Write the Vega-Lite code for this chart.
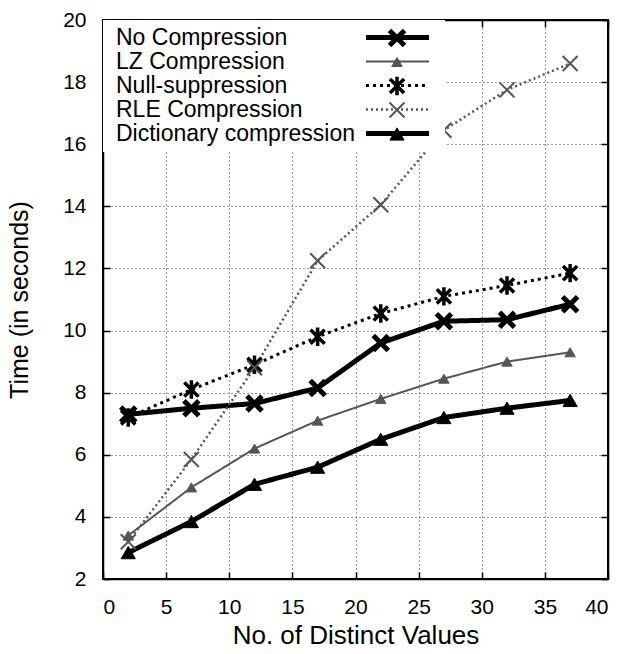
{
  "$schema": "https://vega.github.io/schema/vega-lite/v6.json",
  "autosize": "none",
  "width": 505,
  "height": 559,
  "padding": {"left": 103, "top": 20, "right": 21, "bottom": 75},
  "background": "white",
  "config": {
    "font": "Liberation Sans",
    "view": {"stroke": "black", "strokeWidth": 2},
    "axis": {
      "labelFont": "Liberation Sans",
      "labelFontSize": 21,
      "labelColor": "black",
      "titleFont": "Liberation Sans",
      "titleFontSize": 25,
      "titleFontWeight": "normal",
      "titleColor": "black",
      "domainColor": "black",
      "domainWidth": 1.5,
      "tickColor": "black",
      "tickWidth": 1.5,
      "tickSize": -7,
      "gridColor": "black",
      "gridDash": [1, 3],
      "gridOpacity": 0.8,
      "gridWidth": 1
    },
    "legend": {
      "orient": "none",
      "legendX": 0,
      "legendY": 0,
      "title": null,
      "padding": 6,
      "labelFont": "Liberation Sans",
      "labelFontSize": 23,
      "labelColor": "black",
      "labelLimit": 400,
      "rowPadding": 0,
      "symbolOpacity": 1
    }
  },
  "datasets": {
    "perf": [
      {"series": "No Compression", "distinct": 2, "time": 7.3},
      {"series": "No Compression", "distinct": 7, "time": 7.5},
      {"series": "No Compression", "distinct": 12, "time": 7.65},
      {"series": "No Compression", "distinct": 17, "time": 8.15},
      {"series": "No Compression", "distinct": 22, "time": 9.6},
      {"series": "No Compression", "distinct": 27, "time": 10.3},
      {"series": "No Compression", "distinct": 32, "time": 10.35},
      {"series": "No Compression", "distinct": 37, "time": 10.85},
      {"series": "LZ Compression", "distinct": 2, "time": 3.4},
      {"series": "LZ Compression", "distinct": 7, "time": 4.95},
      {"series": "LZ Compression", "distinct": 12, "time": 6.2},
      {"series": "LZ Compression", "distinct": 17, "time": 7.1},
      {"series": "LZ Compression", "distinct": 22, "time": 7.8},
      {"series": "LZ Compression", "distinct": 27, "time": 8.45},
      {"series": "LZ Compression", "distinct": 32, "time": 9.0},
      {"series": "LZ Compression", "distinct": 37, "time": 9.3},
      {"series": "Null-suppression", "distinct": 2, "time": 7.2},
      {"series": "Null-suppression", "distinct": 7, "time": 8.1},
      {"series": "Null-suppression", "distinct": 12, "time": 8.9},
      {"series": "Null-suppression", "distinct": 17, "time": 9.8},
      {"series": "Null-suppression", "distinct": 22, "time": 10.55},
      {"series": "Null-suppression", "distinct": 27, "time": 11.1},
      {"series": "Null-suppression", "distinct": 32, "time": 11.45},
      {"series": "Null-suppression", "distinct": 37, "time": 11.85},
      {"series": "RLE Compression", "distinct": 2, "time": 3.2},
      {"series": "RLE Compression", "distinct": 7, "time": 5.85},
      {"series": "RLE Compression", "distinct": 12, "time": 8.8},
      {"series": "RLE Compression", "distinct": 17, "time": 12.25},
      {"series": "RLE Compression", "distinct": 22, "time": 14.05},
      {"series": "RLE Compression", "distinct": 27, "time": 16.45},
      {"series": "RLE Compression", "distinct": 32, "time": 17.75},
      {"series": "RLE Compression", "distinct": 37, "time": 18.6},
      {"series": "Dictionary compression", "distinct": 2, "time": 2.85},
      {"series": "Dictionary compression", "distinct": 7, "time": 3.85},
      {"series": "Dictionary compression", "distinct": 12, "time": 5.05},
      {"series": "Dictionary compression", "distinct": 17, "time": 5.6},
      {"series": "Dictionary compression", "distinct": 22, "time": 6.5},
      {"series": "Dictionary compression", "distinct": 27, "time": 7.2},
      {"series": "Dictionary compression", "distinct": 32, "time": 7.5},
      {"series": "Dictionary compression", "distinct": 37, "time": 7.75}
    ]
  },
  "data": {"name": "perf"},
  "resolve": {
    "scale": {"x": "independent", "y": "independent", "stroke": "independent", "strokeWidth": "independent", "strokeDash": "independent", "shape": "independent", "size": "independent", "fill": "independent"},
    "legend": {"stroke": "independent", "strokeWidth": "independent", "strokeDash": "independent", "shape": "independent", "size": "independent", "fill": "independent"}
  },
  "layer": [
    {
      "mark": {"type": "line", "strokeJoin": "miter"},
      "encoding": {
        "x": {
          "field": "distinct", "type": "quantitative",
          "scale": {"domain": [0, 40], "nice": false, "zero": false},
          "axis": {"orient": "bottom", "values": [0, 5, 10, 15, 20, 25, 30, 35, 40], "title": "No. of Distinct Values", "titleFontSize": 26, "labelPadding": 24, "titlePadding": 5, "grid": true}
        },
        "y": {
          "field": "time", "type": "quantitative",
          "scale": {"domain": [2, 20], "nice": false, "zero": false},
          "axis": {"orient": "left", "values": [2, 4, 6, 8, 10, 12, 14, 16, 18, 20], "title": "Time (in seconds)", "labelPadding": 24, "titlePadding": 30, "grid": true}
        },
        "stroke": {
          "field": "series", "type": "nominal",
          "scale": {"domain": ["No Compression", "LZ Compression", "Null-suppression", "RLE Compression", "Dictionary compression"], "range": ["black", "#555555", "black", "#555555", "black"]},
          "legend": {"fillColor": "white", "symbolType": "M-6.3,0H6.3", "symbolSize": 100, "symbolFillColor": "transparent", "symbolOffset": 277, "labelOffset": -293}
        },
        "strokeWidth": {
          "field": "series", "type": "nominal",
          "scale": {"type": "ordinal", "domain": ["No Compression", "LZ Compression", "Null-suppression", "RLE Compression", "Dictionary compression"], "range": [5, 2, 3, 2.5, 5]},
          "legend": {"fillColor": "white", "symbolType": "M-6.3,0H6.3", "symbolSize": 100, "symbolFillColor": "transparent", "symbolOffset": 277, "labelOffset": -293}
        },
        "strokeDash": {
          "field": "series", "type": "nominal",
          "scale": {"domain": ["No Compression", "LZ Compression", "Null-suppression", "RLE Compression", "Dictionary compression"], "range": [[1, 0], [1, 0], [3, 4], [2, 3], [1, 0]]},
          "legend": {"fillColor": "white", "symbolType": "M-6.3,0H6.3", "symbolSize": 100, "symbolFillColor": "transparent", "symbolOffset": 277, "labelOffset": -293}
        }
      }
    },
    {
      "mark": {"type": "point", "filled": true, "opacity": 1},
      "encoding": {
        "x": {
          "field": "distinct", "type": "quantitative",
          "scale": {"domain": [0, 40], "nice": false, "zero": false},
          "axis": {"orient": "top", "values": [0, 5, 10, 15, 20, 25, 30, 35, 40], "labels": false, "title": null, "grid": false}
        },
        "y": {
          "field": "time", "type": "quantitative",
          "scale": {"domain": [2, 20], "nice": false, "zero": false},
          "axis": {"orient": "right", "values": [2, 4, 6, 8, 10, 12, 14, 16, 18, 20], "labels": false, "title": null, "grid": false}
        },
        "shape": {
          "field": "series", "type": "nominal",
          "scale": {"domain": ["No Compression", "LZ Compression", "Null-suppression", "RLE Compression", "Dictionary compression"], "range": ["M-1,-1L1,1M-1,1L1,-1", "triangle-up", "M-1,-1L1,1M-1,1L1,-1M0,-1.3L0,1.3", "M-1,-1L1,1M-1,1L1,-1", "triangle-up"]},
          "legend": {"fillColor": "transparent", "labelOpacity": 0, "labelFontSize": 1, "clipHeight": 24, "symbolOffset": 278, "labelOffset": -4}
        },
        "size": {
          "field": "series", "type": "nominal",
          "scale": {"type": "ordinal", "domain": ["No Compression", "LZ Compression", "Null-suppression", "RLE Compression", "Dictionary compression"], "range": [225, 110, 200, 225, 200]},
          "legend": {"fillColor": "transparent", "labelOpacity": 0, "labelFontSize": 1, "clipHeight": 24, "symbolOffset": 278, "labelOffset": -4}
        },
        "fill": {
          "field": "series", "type": "nominal",
          "scale": {"domain": ["No Compression", "LZ Compression", "Null-suppression", "RLE Compression", "Dictionary compression"], "range": ["black", "#555555", "black", "#555555", "black"]},
          "legend": {"fillColor": "transparent", "labelOpacity": 0, "labelFontSize": 1, "clipHeight": 24, "symbolOffset": 278, "labelOffset": -4}
        },
        "stroke": {
          "field": "series", "type": "nominal",
          "scale": {"domain": ["No Compression", "LZ Compression", "Null-suppression", "RLE Compression", "Dictionary compression"], "range": ["black", "#555555", "black", "#555555", "black"]},
          "legend": {"fillColor": "transparent", "labelOpacity": 0, "labelFontSize": 1, "clipHeight": 24, "symbolOffset": 278, "labelOffset": -4}
        },
        "strokeWidth": {
          "field": "series", "type": "nominal",
          "scale": {"type": "ordinal", "domain": ["No Compression", "LZ Compression", "Null-suppression", "RLE Compression", "Dictionary compression"], "range": [5, 1, 3.5, 2, 1]},
          "legend": {"fillColor": "transparent", "labelOpacity": 0, "labelFontSize": 1, "clipHeight": 24, "symbolOffset": 278, "labelOffset": -4}
        }
      }
    }
  ]
}
